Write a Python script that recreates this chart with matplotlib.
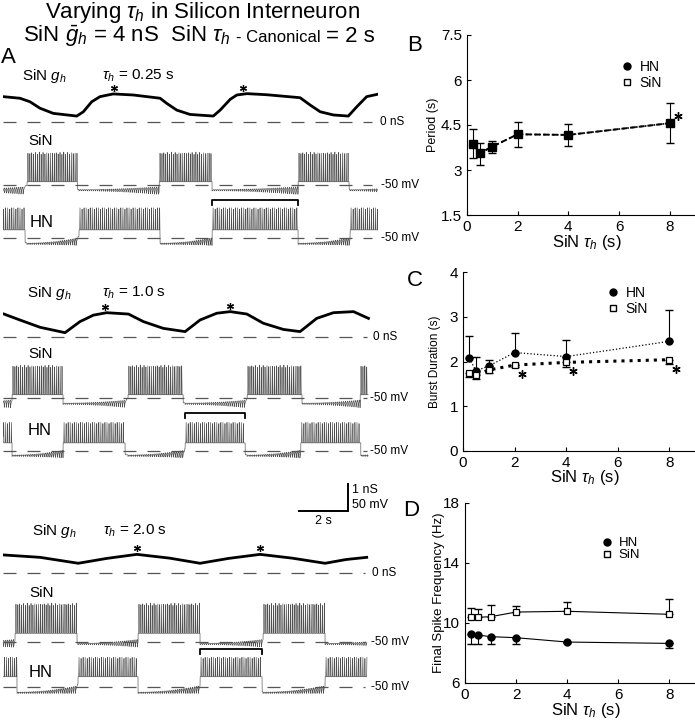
import numpy as np
import matplotlib
matplotlib.use('Agg')
import matplotlib.pyplot as plt
from matplotlib.lines import Line2D
from matplotlib.transforms import offset_copy

plt.rcParams['font.family'] = ['Liberation Sans', 'DejaVu Sans']
plt.rcParams['mathtext.fontset'] = 'custom'
plt.rcParams['mathtext.rm'] = 'Liberation Sans'
plt.rcParams['mathtext.it'] = 'Liberation Sans:italic'

W, H = 695, 720

# ---------------- summary data (panels B-D)
tau_h = [0.25, 0.5, 1, 2, 4, 8]
period_mean = [3.86, 3.56, 3.78, 4.19, 4.17, 4.56]
period_lo = [3.39, 3.17, 3.56, 3.76, 3.80, 3.89]
period_hi = [4.36, 3.91, 3.98, 4.61, 4.52, 5.22]
burst_hn = [2.07, 1.79, 1.90, 2.20, 2.11, 2.45]
burst_hn_hi = [2.56, 2.11, 2.04, 2.63, 2.47, 3.14]
burst_sin = [1.75, 1.70, 1.81, 1.92, 1.98, 2.04]
burst_sin_lo = [1.65, 1.60, 1.74, 1.88, 1.87, 1.95]
freq_hn = [9.25, 9.20, 9.09, 9.02, 8.73, 8.64]
freq_hn_lo = [8.58, 8.60, 8.58, 8.58, 8.66, 8.36]
freq_sin = [10.42, 10.38, 10.42, 10.73, 10.78, 10.58]
freq_sin_hi = [10.98, 10.93, 11.20, 11.15, 11.42, 11.60]
period_star_tau = [8]
burst_star_tau = [2, 4, 8]

# ---------------- trace data (panel A), time in s
gh1_t = [0.0, 0.69, 1.10, 1.51, 2.05, 3.01, 3.28, 3.62, 3.96, 4.50, 5.32, 6.41, 6.68, 7.09, 7.63,
         8.58, 8.86, 9.27, 9.54, 9.95, 10.76, 12.12, 12.53, 12.94, 13.48, 14.09, 14.44, 14.84, 15.30]
gh1_g = [0.94, 0.88, 0.75, 0.51, 0.32, 0.22, 0.38, 0.75, 0.94, 1.04, 1.00, 0.88, 0.69, 0.44, 0.28,
         0.22, 0.44, 0.84, 1.00, 1.05, 1.01, 0.90, 0.63, 0.38, 0.26, 0.22, 0.57, 0.94, 1.03]
gh2_t = [0.04, 0.69, 1.51, 2.53, 3.14, 3.69, 4.23, 5.12, 5.73, 6.54, 7.43, 8.04, 8.72, 9.27,
         9.95, 10.62, 11.44, 12.12, 12.80, 13.48, 14.30, 14.91]
gh2_g = [0.85, 0.63, 0.36, 0.16, 0.57, 0.81, 0.90, 0.85, 0.57, 0.32, 0.20, 0.63, 0.88, 0.94,
         0.85, 0.51, 0.28, 0.20, 0.69, 0.90, 0.94, 0.69]
gh3_t = [0.0, 1.51, 3.07, 4.23, 5.46, 6.80, 8.04, 9.20, 10.49, 11.80, 13.14, 14.00, 14.84]
gh3_g = [0.67, 0.58, 0.36, 0.54, 0.69, 0.55, 0.36, 0.54, 0.69, 0.55, 0.36, 0.50, 0.58]
gh_star_t = [[4.53, 9.80], [4.16, 9.27], [5.47, 10.49]]

sin1_on, sin1_off = [0.98, 6.37, 12.04], [3.02, 8.53, 14.12]
hn1_on, hn1_off = [-1.6, 3.10, 8.53, 14.16], [0.90, 6.41, 12.04, 16.5]
sin2_on, sin2_off = [0.37, 5.10, 9.96, 14.57], [2.45, 7.35, 12.20, 16.5]
hn2_on, hn2_off = [-1.7, 2.45, 7.43, 12.15], [0.37, 4.98, 9.88, 14.60]
sin3_on, sin3_off = [0.49, 5.51, 10.61], [3.02, 8.04, 13.14]
hn3_on, hn3_off = [-1.9, 3.06, 8.04, 13.14], [0.57, 5.51, 10.57, 16.5]
sin_rate, hn_rate = 13.0, 12.0          # spikes/s inside bursts
# [spike peak, burst plateau, interburst trough] in mV
sin_levels = [[11, -44, -58], [11, -44, -59], [22, -34, -52]]
hn_levels = [[7, -35, -59], [4, -35, -57], [6, -31, -59]]
trace_end = [15.3, 14.9, 14.85]
tau_labels = ['0.25 s', '1.0 s', '2.0 s']

fig = plt.figure(figsize=(6.95, 7.2), dpi=100)


def px_axes(x0, y0, x1, y1):
    return fig.add_axes([x0 / W, 1 - y1 / H, (x1 - x0) / W, (y1 - y0) / H])


def ftext(x, y, s, **kw):
    return fig.text(x / W, 1 - y / H, s, **kw)


def membrane(t, on, off, p_on, p_off, rate, p_rate, top, plat, low):
    on = np.asarray(on); off = np.asarray(off)
    inb = np.zeros(t.size, bool)
    for a, b in zip(on, off):
        inb |= (t >= a) & (t < b)
    k = np.searchsorted(on, t, side='right')
    nxt = np.where(k < on.size, on[np.minimum(k, on.size - 1)], t[-1] + 1.0)
    j = np.searchsorted(off, t, side='right') - 1
    prv = np.where(j >= 0, off[np.maximum(j, 0)], nxt - 3.5)
    frac = np.clip((t - prv) / (nxt - prv), 0, 1)
    v = np.where(inb, plat, low + 0.5 * (plat - low) * frac ** 2).astype(float)
    for a, b in zip(p_on, p_off):   # inhibitory potentials from partner's spikes
        for ts in np.arange(a, b, 1.0 / p_rate):
            m = (t >= ts) & (t < ts + 1.0 / p_rate) & ~inb
            v[m] -= (3 + 14 * frac[m] ** 2) * np.exp(-(t[m] - ts) / 0.04)
    for a, b in zip(on, off):
        for ts in np.arange(a + 0.5 / rate, b, 1.0 / rate):
            m = np.abs(t - ts) < 0.012
            v[m] = np.maximum(v[m], top - (top - plat) * np.abs(t[m] - ts) / 0.012)
    return v


def trace_axes(top, bottom, base, per_px, base_val):
    ax = px_axes(3, top, 378, bottom)
    ax.set_xlim(0, 15.3)
    ax.set_ylim(base_val - (bottom - base) * per_px, base_val + (base - top) * per_px)
    ax.axis('off')
    return ax


dash = dict(color='#555555', lw=0.9, ls=(0, (10.4, 8.8)))
vcol = '#505050'
nS_px, mV_px = 1 / 27.0, 50 / 27.0

# layout of the three trace groups (pixel rows)
layout = [
    dict(gh=(80, 130, 122), sin=(145, 200, 185), hn=(195, 250, 238), dash_end=15.06,
         title_y=80, ghlab_x=22, tau_x=102, sin_lab=(28, 145), hn_lab=(30, 227), unit_x=(380, 381)),
    dict(gh=(300, 345, 337), sin=(360, 410, 398), hn=(405, 465, 451), dash_end=14.86,
         title_y=297, ghlab_x=27, tau_x=102, sin_lab=(28, 358), hn_lab=(28, 435), unit_x=(373, 370)),
    dict(gh=(540, 580, 573), sin=(595, 655, 642), hn=(645, 700, 687), dash_end=14.78,
         title_y=535, ghlab_x=32, tau_x=103, sin_lab=(29, 597), hn_lab=(29, 677), unit_x=(372, 371)),
]
gh_sets = [(gh1_t, gh1_g), (gh2_t, gh2_g), (gh3_t, gh3_g)]
sin_sets = [(sin1_on, sin1_off), (sin2_on, sin2_off), (sin3_on, sin3_off)]
hn_sets = [(hn1_on, hn1_off), (hn2_on, hn2_off), (hn3_on, hn3_off)]

for i, L in enumerate(layout):
    t = np.arange(0, trace_end[i], 0.002)
    # conductance trace
    ax = trace_axes(*L['gh'], nS_px, 0)
    ax.plot(gh_sets[i][0], gh_sets[i][1], color='black', lw=2.0)
    ax.hlines(0, 0, L['dash_end'], **dash)
    st = gh_star_t[i]
    ax.plot(st, np.interp(st, gh_sets[i][0], gh_sets[i][1]), ls='none', marker=(6, 2, 0),
            ms=5, mew=0.9, color='black', clip_on=False,
            transform=offset_copy(ax.transData, fig, y=6, units='dots'))
    # SiN trace
    s_on, s_off = sin_sets[i]
    h_on, h_off = hn_sets[i]
    ax = trace_axes(*L['sin'], mV_px, -50)
    ax.plot(t, membrane(t, s_on, s_off, h_on, h_off, sin_rate, hn_rate, *sin_levels[i]),
            color=vcol, lw=0.45)
    ax.hlines(-50, 0, L['dash_end'], **dash)
    # HN trace
    ax = trace_axes(*L['hn'], mV_px, -50)
    ax.plot(t, membrane(t, h_on, h_off, s_on, s_off, hn_rate, sin_rate, *hn_levels[i]),
            color=vcol, lw=0.45)
    ax.hlines(-50, 0, L['dash_end'], **dash)
    b0, b1 = h_on[2], h_off[2]
    ax.plot([b0, b0, b1, b1], [11, 21, 21, 11], color='black', lw=1.3)

    ftext(L['ghlab_x'], L['title_y'], r'SiN $g_h$', fontsize=11, va='baseline')
    ftext(L['tau_x'], L['title_y'], r'$\tau_h$ = ' + tau_labels[i], fontsize=11, va='baseline')
    ftext(L['sin_lab'][0], L['sin_lab'][1], 'SiN', fontsize=11, va='baseline')
    ftext(L['hn_lab'][0], L['hn_lab'][1], 'HN', fontsize=12, va='baseline')
    ftext(L['unit_x'][0], L['gh'][2], '0 nS', fontsize=8.5, va='center')
    ftext(L['unit_x'][1], L['sin'][2], '-50 mV', fontsize=8.5, va='center')
    ftext(L['unit_x'][1], L['hn'][2], '-50 mV', fontsize=8.5, va='center')

# scale bar (2 s, 1 nS / 50 mV)
sb = px_axes(3, 480, 378, 515)
sb.set_xlim(0, 15.3)
sb.set_ylim(-(515 - 511) * nS_px, (511 - 480) * nS_px)
sb.axis('off')
sb.plot([12.08, 14.08, 14.08], [0, 0, 1], color='black', lw=1.4, solid_joinstyle='miter')
ftext(352, 490, '1 nS', fontsize=9, va='center')
ftext(352, 505, '50 mV', fontsize=9, va='center')
ftext(323, 521, '2 s', fontsize=9, va='center', ha='center')

# titles
ftext(202, 18, r'Varying $\tau_h$ in Silicon Interneuron', fontsize=16, ha='center', va='baseline')
r = fig.canvas.get_renderer()
t1 = ftext(23, 42, r'SiN $\bar{g}_h$ = 4 nS  SiN $\tau_h$', fontsize=16, va='baseline')
x1 = t1.get_window_extent(r).x1
t2 = fig.text((x1 + 5) / W, 1 - 42 / H, '- Canonical', fontsize=12, va='baseline')
x2 = t2.get_window_extent(r).x1
fig.text((x2 + 6) / W, 1 - 42 / H, '= 2 s', fontsize=16, va='baseline')
ftext(1, 63, 'A', fontsize=16, va='baseline')
ftext(407, 51, 'B', fontsize=16, va='baseline')
ftext(407, 286, 'C', fontsize=16, va='baseline')
ftext(403, 516, 'D', fontsize=16, va='baseline')


def style(ax, yl, ylx, ylfs):
    for s in ['top', 'right']:
        ax.spines[s].set_visible(False)
    for s in ['left', 'bottom']:
        ax.spines[s].set_linewidth(0.8)
    ax.tick_params(direction='in', length=3, width=0.8, labelsize=11)
    ax.set_xlim(0, 9)
    ax.set_xticks([0, 2, 4, 6, 8])
    ax.set_xlabel(r'SiN $\tau_h$ (s)', fontsize=12, va='center')
    ax.xaxis.set_label_coords(0.525, -0.15)
    ax.set_ylabel(yl, fontsize=ylfs, va='center')
    ax.yaxis.set_label_coords(ylx, 0.5)


def add_legend(ax, x, y, fs=10, sp=0.15):
    h = [Line2D([], [], marker='o', color='black', ls='none', ms=5),
         Line2D([], [], marker='s', mfc='white', mec='black', ls='none', ms=5)]
    ax.legend(h, ['HN', 'SiN'], loc='upper left', bbox_to_anchor=(x / W, 1 - y / H),
              bbox_transform=fig.transFigure, frameon=False, fontsize=fs, handlelength=1,
              handletextpad=0.4, labelspacing=sp, borderpad=0, borderaxespad=0)


tau = np.array(tau_h)
# B: period
axB = px_axes(467, 35, 695, 215)
axB.errorbar(tau, period_mean, yerr=[np.array(period_mean) - period_lo, np.array(period_hi) - period_mean],
             fmt='none', ecolor='black', elinewidth=0.8, capsize=3)
axB.plot(tau, period_mean, color='black', ls=':', lw=1.2)
axB.plot(tau, period_mean, color='black', ls=(0, (3, 1.5)), lw=1.4, marker='s', ms=5.5)
axB.plot(period_star_tau, [period_mean[-1]], ls='none', marker=(6, 2, 0), ms=6, mew=1, color='black',
         clip_on=False, transform=offset_copy(axB.transData, fig, x=8, y=7, units='dots'))
axB.set_ylim(1.5, 7.5)
axB.set_yticks([1.5, 3, 4.5, 6, 7.5])
axB.set_yticklabels(['1.5', '3', '4.5', '6', '7.5'])
style(axB, 'Period (s)', -0.15, 9)
add_legend(axB, 620, 60)

# C: burst duration
axC = px_axes(463, 272, 695, 451)
axC.errorbar(tau, burst_hn, yerr=[np.zeros(6), np.array(burst_hn_hi) - burst_hn],
             fmt='none', ecolor='black', elinewidth=0.8, capsize=3)
axC.errorbar(tau, burst_sin, yerr=[np.array(burst_sin) - burst_sin_lo, np.zeros(6)],
             fmt='none', ecolor='black', elinewidth=0.8, capsize=3)
axC.plot(tau, burst_hn, color='black', ls=':', lw=0.9, marker='o', ms=5)
axC.plot(tau, burst_sin, color='black', ls=':', lw=2.2, marker='s', ms=5, mfc='white', mew=0.9)
idx = [tau_h.index(v) for v in burst_star_tau]
axC.plot(burst_star_tau, [burst_sin[k] for k in idx], ls='none', marker=(6, 2, 0), ms=6, mew=1,
         color='black', transform=offset_copy(axC.transData, fig, x=7, y=-9, units='dots'))
axC.set_ylim(0, 4)
axC.set_yticks([0, 1, 2, 3, 4])
style(axC, 'Burst Duration (s)', -0.12, 8.5)
add_legend(axC, 606, 286)

# D: final spike frequency
axD = px_axes(465, 503, 695, 683)
axD.errorbar(tau, freq_sin, yerr=[np.zeros(6), np.array(freq_sin_hi) - freq_sin],
             fmt='none', ecolor='black', elinewidth=0.8, capsize=3)
axD.errorbar(tau, freq_hn, yerr=[np.array(freq_hn) - freq_hn_lo, np.zeros(6)],
             fmt='none', ecolor='black', elinewidth=0.8, capsize=3)
axD.plot(tau, freq_hn, color='black', lw=0.8, marker='o', ms=5)
axD.plot(tau, freq_sin, color='black', lw=0.8, marker='s', ms=5, mfc='white', mew=0.9)
axD.set_ylim(6, 18)
axD.set_yticks([6, 10, 14, 18])
style(axD, 'Final Spike Frequency (Hz)', -0.115, 9.5)
add_legend(axD, 600, 537, fs=9.5, sp=0.0)

fig.savefig('out.png', dpi=100)
